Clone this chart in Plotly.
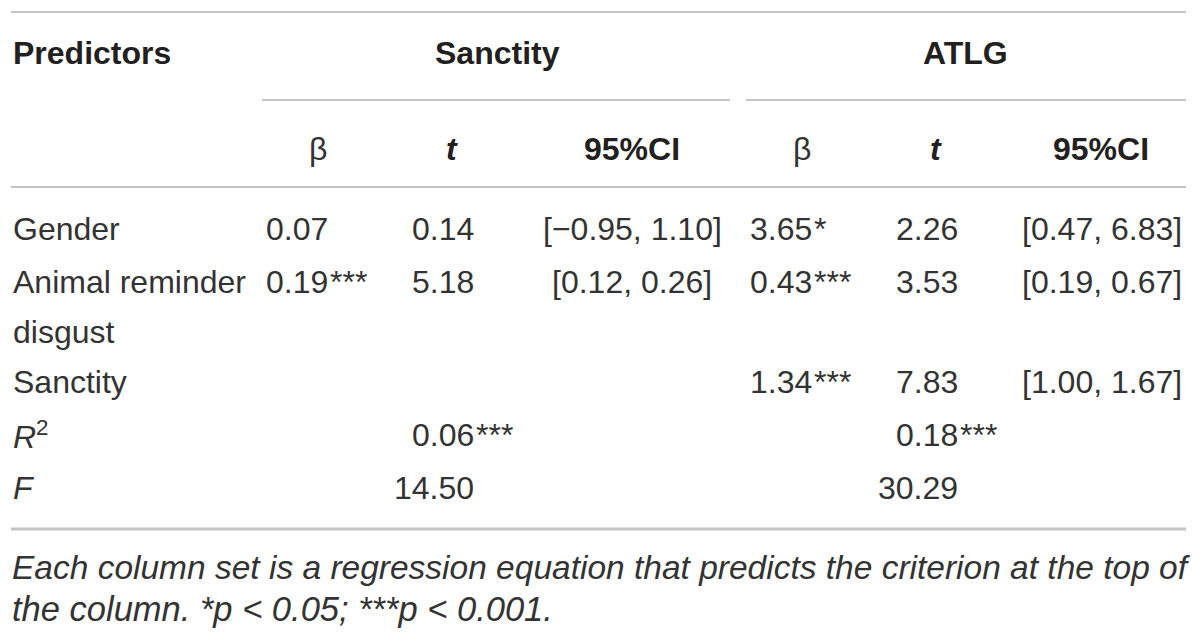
import plotly.graph_objects as go

# Table content
predictors = ["Gender", "Animal reminder\ndisgust", "Sanctity"]
criteria = ["Sanctity", "ATLG"]

sanct_beta = [0.07, 0.19, None]
sanct_beta_sig = ["", "***", ""]
sanct_t = [0.14, 5.18, None]
sanct_ci = [(-0.95, 1.10), (0.12, 0.26), None]

atlg_beta = [3.65, 0.43, 1.34]
atlg_beta_sig = ["*", "***", "***"]
atlg_t = [2.26, 3.53, 7.83]
atlg_ci = [(0.47, 6.83), (0.19, 0.67), (1.00, 1.67)]

r2_vals = [0.06, 0.18]
r2_sig = ["***", "***"]
f_vals = [14.50, 30.29]

footnote = ("Each column set is a regression equation that predicts the criterion at the top of",
            "the column. *p < 0.05; ***p < 0.001.")

TXT = "#333333"
HEAD = "#231f20"
RULE = "#c4c4c4"
FONT = "Liberation Sans"
SIZE = 32
# the page body has an 8px margin, so the plot area is shifted by that much
PAD = 8

fig = go.Figure()
ann = []


def add(text, x, y, anchor="left", bold=False, size=SIZE):
    """ Put one text cell on the pixel grid """
    color = TXT
    if bold:
        text = "<b>" + text + "</b>"
        color = HEAD
    ann.append(dict(text=text, x=x, y=y, xref="x", yref="y", xanchor=anchor,
                    yanchor="middle", showarrow=False, borderpad=0,
                    font=dict(family=FONT, size=size, color=color)))


def num(v):
    return f"{v:.2f}".replace("-", "\u2212")


def ci(pair):
    return f"[{num(pair[0])}, {num(pair[1])}]"


def add_num(v, sig, right, y):
    # decimal aligned: number right-aligned, stars hang to the right
    add(num(v), right, y, anchor="right")
    if sig:
        add(sig, right, y, anchor="left")


# header rows
add("Predictors", 12, 53, bold=True)
add(criteria[0], 497, 53, anchor="center", bold=True)
add(criteria[1], 965, 53, anchor="center", bold=True)
for bx, tx, cx in [(318, 452, 632), (802, 936, 1101)]:
    add("\u03b2", bx, 149, anchor="center")
    add("<i>t</i>", tx, 149, anchor="center", bold=True)
    add("95%CI", cx, 149, anchor="center", bold=True)

# predictor rows
row_y = [229, 282, 382]
for i, label in enumerate(predictors):
    for k, line in enumerate(label.split("\n")):
        add(line, 12, row_y[i] + k * 50)
    y = row_y[i]
    if sanct_beta[i] is not None:
        add_num(sanct_beta[i], sanct_beta_sig[i], 329, y)
        add_num(sanct_t[i], "", 475, y)
        add(ci(sanct_ci[i]), 632, y, anchor="center")
    add_num(atlg_beta[i], atlg_beta_sig[i], 813, y)
    add_num(atlg_t[i], "", 959, y)
    add(ci(atlg_ci[i]), 1102, y, anchor="center")

# model fit rows
add("<i>R</i><sup>2</sup>", 12, 435)
add("<i>F</i>", 12, 488)
for v, s, right in zip(r2_vals, r2_sig, [475, 959]):
    add_num(v, s, right, 435)
for v, right in zip(f_vals, [475, 959]):
    add_num(v, "", right, 488)

# footnote (first line is justified in the original, so it runs a bit tighter)
add("<i>" + footnote[0] + "</i>", 11, 567, size=33.5)
add("<i>" + footnote[1] + "</i>", 11, 609, size=34.5)

# rules
shapes = []
for x0, x1, y, w in [(11, 1186, 12, 2), (262, 730, 100, 2), (746, 1186, 100, 2),
                     (11, 1186, 187, 2), (11, 1186, 529, 3)]:
    shapes.append(dict(type="line", xref="x", yref="y", x0=x0, x1=x1, y0=y, y1=y,
                       line=dict(color=RULE, width=w)))

fig.update_layout(width=1200 - PAD, height=633 - PAD, margin=dict(l=0, r=0, t=0, b=0),
                  paper_bgcolor="white", plot_bgcolor="white",
                  annotations=ann, shapes=shapes, showlegend=False)
fig.update_xaxes(range=[PAD, 1200], visible=False, fixedrange=True)
fig.update_yaxes(range=[633, PAD], visible=False, fixedrange=True)
fig.write_html("out.html")
